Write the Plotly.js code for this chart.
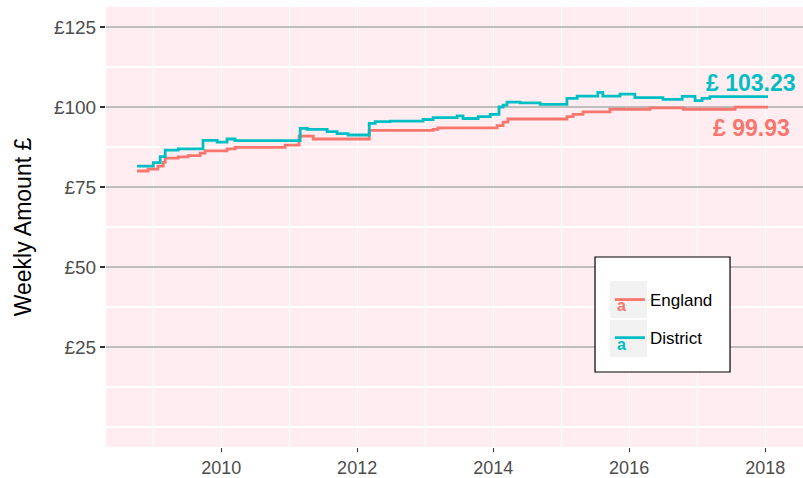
<!DOCTYPE html>
<html>
<head>
<meta charset="utf-8">
<script src="https://cdn.plot.ly/plotly-3.0.1.min.js"></script>
<style>html,body{margin:0;padding:0;background:#fff;}#chart{width:803px;height:478px;}</style>
</head>
<body>
<div id="chart"></div>
<script>
// ---- data ----
var englandDates = ['2008-10-06','2008-12-04','2009-01-26','2009-02-23','2009-03-06','2009-05-15','2009-07-07','2009-09-10','2009-10-06','2010-02-01','2010-03-16','2010-12-10','2011-02-23','2011-05-10','2012-03-06','2013-02-12','2013-03-10','2014-01-22','2014-02-23','2014-03-21','2015-02-01','2015-03-06','2015-04-28','2015-09-20','2016-04-22','2016-10-18','2017-07-23','2018-01-16'];
var englandValues = [80.0,80.6,81.5,82.7,84.0,84.4,84.8,85.6,86.3,86.9,87.4,88.1,90.9,90.0,92.7,93.0,93.5,94.2,95.3,96.25,97.0,97.7,98.5,99.3,99.7,99.3,99.93,99.93];

var districtDates = ['2008-10-06','2009-01-01','2009-02-07','2009-03-06','2009-05-15','2009-09-25','2009-12-10','2010-02-01','2010-03-16','2011-03-01','2011-04-08','2011-07-24','2011-09-15','2011-11-13','2012-03-06','2012-04-07','2012-06-26','2012-12-20','2013-02-12','2013-06-21','2013-07-23','2013-10-12','2013-12-16','2014-02-01','2014-02-23','2014-03-16','2014-05-26','2014-09-10','2015-02-01','2015-03-28','2015-07-17','2015-08-13','2015-11-13','2016-02-01','2016-07-01','2016-10-12','2016-12-20','2017-01-27','2017-03-10','2018-01-16'];
var districtValues = [81.5,82.6,84.5,86.5,86.9,89.6,89.0,90.0,89.5,93.3,93.0,92.3,91.7,91.25,94.9,95.4,95.6,96.1,96.7,97.2,96.4,97.0,97.7,100.0,100.6,101.5,101.3,100.8,102.7,103.4,104.6,103.4,104.0,102.9,102.4,103.3,102.0,102.7,103.23,103.23];

var seriesNames = ['England','District'];
var seriesColors = ['#F8766D','#00BFC4'];
var yTickVals = [25,50,75,100,125];
var yTickText = ['£25','£50','£75','£100','£125'];
var xTickVals = ['2010-01-01','2012-01-01','2014-01-01','2016-01-01','2018-01-01'];
var xTickText = ['2010','2012','2014','2016','2018'];
var endLabels = ['£ 99.93','£ 103.23'];

var traces = [
  {x: englandDates, y: englandValues, name: seriesNames[0], legendgroup: 'e', type: 'scatter', mode: 'lines',
   line: {shape: 'hv', color: seriesColors[0], width: 2.8}},
  {x: districtDates, y: districtValues, name: seriesNames[1], legendgroup: 'd', type: 'scatter', mode: 'lines',
   line: {shape: 'hv', color: seriesColors[1], width: 2.8}}
];

var lastE = englandDates.length - 1, lastD = districtDates.length - 1;

var layout = {
  width: 803, height: 478,
  margin: {l: 106, r: 0, t: 7, b: 31, pad: 0},
  paper_bgcolor: '#ffffff',
  plot_bgcolor: '#FFEDF2',
  font: {family: 'Liberation Sans, Arial, sans-serif', color: '#4D4D4D'},
  showlegend: true,
  legend: {x: 0.723, y: 0.375, xanchor: 'left', yanchor: 'top', bgcolor: 'rgba(0,0,0,0)', borderwidth: 0,
           tracegroupgap: 13, font: {size: 17, color: '#000000'}},
  xaxis: {type: 'date', range: ['2008-04-22', '2018-07-23'], tickvals: xTickVals, ticktext: xTickText,
          showgrid: true, gridcolor: '#ffffff', gridwidth: 1.2, zeroline: false, showline: false,
          ticks: 'outside', ticklen: 4, tickwidth: 1.2, tickcolor: '#333333',
          tickfont: {size: 18, color: '#4D4D4D'},
          minor: {tickvals: ['2009-01-01','2011-01-01','2013-01-01','2015-01-01','2017-01-01'], showgrid: true, gridcolor: '#ffffff', gridwidth: 1.2, ticks: ''}},
  yaxis: {range: [-6.25, 131.25], tickvals: yTickVals, ticktext: yTickText,
          showgrid: true, gridcolor: '#BEBEBE', gridwidth: 1.2, zeroline: false, showline: false,
          ticks: 'outside', ticklen: 5, tickwidth: 1.2, tickcolor: '#333333',
          tickfont: {size: 19, color: '#4D4D4D'},
          title: {text: 'Weekly Amount £', font: {size: 23, color: '#000000'}, standoff: 15},
          minor: {tickvals: [0, 12.5, 37.5, 62.5, 87.5, 112.5], showgrid: true, gridcolor: '#ffffff', gridwidth: 1.2, ticks: ''}},
  shapes: [
    {type: 'rect', xref: 'paper', yref: 'paper', x0: 0.7016, x1: 0.8953, y0: 0.1705, y1: 0.4318,
     fillcolor: '#ffffff', line: {color: '#000000', width: 1.2}, layer: 'above'},
    {type: 'rect', xref: 'paper', yref: 'paper', x0: 0.7231, x1: 0.7762, y0: 0.2932, y1: 0.3773,
     fillcolor: '#F2F2F2', line: {width: 0}, layer: 'above'},
    {type: 'rect', xref: 'paper', yref: 'paper', x0: 0.7231, x1: 0.7762, y0: 0.2045, y1: 0.2886,
     fillcolor: '#F2F2F2', line: {width: 0}, layer: 'above'}
  ],
  annotations: [
    {x: englandDates[lastE], y: englandValues[lastE], xref: 'x', yref: 'y', text: endLabels[0], showarrow: false,
     xanchor: 'center', yanchor: 'middle', xshift: -17, yshift: -21,
     font: {size: 23, color: seriesColors[0], family: 'Liberation Sans, Arial, sans-serif', weight: 'bold'}},
    {x: districtDates[lastD], y: districtValues[lastD], xref: 'x', yref: 'y', text: endLabels[1], showarrow: false,
     xanchor: 'center', yanchor: 'middle', xshift: -17, yshift: 14,
     font: {size: 23, color: seriesColors[1], family: 'Liberation Sans, Arial, sans-serif', weight: 'bold'}},
    {x: 0.7496, y: 0.2966, xref: 'paper', yref: 'paper', text: 'a', showarrow: false,
     font: {size: 16, color: seriesColors[0], weight: 'bold'}},
    {x: 0.7496, y: 0.2102, xref: 'paper', yref: 'paper', text: 'a', showarrow: false,
     font: {size: 16, color: seriesColors[1], weight: 'bold'}}
  ]
};

Plotly.newPlot('chart', traces, layout, {displayModeBar: false, staticPlot: true});
</script>
</body>
</html>
